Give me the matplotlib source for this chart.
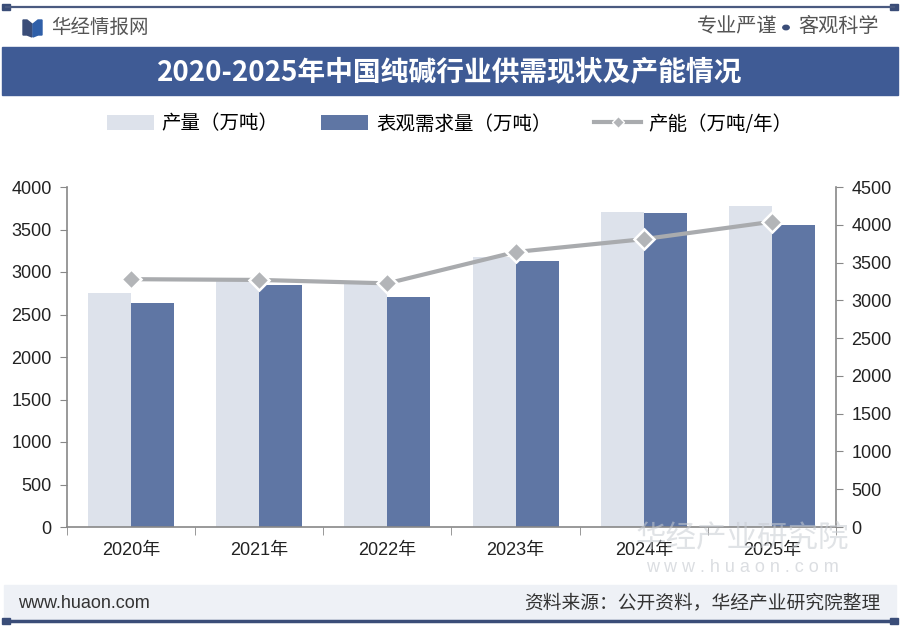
import matplotlib
matplotlib.use("Agg")
import matplotlib.pyplot as plt
from matplotlib.lines import Line2D
from matplotlib.patches import Patch, Rectangle, Polygon, Circle
import numpy as np

plt.rcParams['font.family'] = ['Noto Sans CJK SC', 'DejaVu Sans']

# -----------------------------
# data
# -----------------------------
years = ["2020年", "2021年", "2022年", "2023年", "2024年", "2025年"]
production = [2755, 2905, 2875, 3180, 3710, 3780]      # 产量（万吨）
demand = [2640, 2845, 2710, 3125, 3690, 3555]          # 表观需求量（万吨）
capacity = [3280, 3270, 3225, 3640, 3810, 4040]        # 产能（万吨/年）

left_ticks = list(range(0, 4001, 500))
right_ticks = list(range(0, 4501, 500))

# -----------------------------
# colors
# -----------------------------
c_prod = "#dde2eb"
c_dem = "#5f76a4"
c_line = "#a9abae"
c_banner = "#3f5b95"
c_dark = "#3a4d78"
num_font = ['Liberation Sans', 'Noto Sans CJK SC']

W, H = 900, 627
fig = plt.figure(figsize=(W / 100, H / 100), dpi=100)
fig.patch.set_facecolor("white")


def fx(px):
    return px / W


def fy(py):
    return 1 - py / H


# top line with end squares
fig.add_artist(Line2D([fx(6), fx(894)], [fy(7), fy(7)], color="#4a5a80", lw=1.6))
for x in (6, 894):
    fig.add_artist(Rectangle((fx(x - 4), fy(9.5)), 8 / W, 5 / H, color=c_dark))

# logo + header
fig.add_artist(Polygon([[fx(23), fy(20)], [fx(27), fy(20)], [fx(32), fy(24)],
                        [fx(32), fy(37)], [fx(27), fy(35)], [fx(23), fy(35)]],
                       closed=True, color=c_dark))
fig.add_artist(Polygon([[fx(42), fy(20)], [fx(38), fy(20)], [fx(33), fy(24)],
                        [fx(33), fy(37)], [fx(38), fy(35)], [fx(42), fy(35)]],
                       closed=True, color="#2f5fa8"))
fig.text(fx(51), fy(27), "华经情报网", fontsize=14, color="#555555", va="center", ha="left")
fig.text(fx(879), fy(27), "客观科学", fontsize=14.5, color="#555555", va="center", ha="right")
fig.text(fx(777), fy(27), "专业严谨", fontsize=14.5, color="#555555", va="center", ha="right")
fig.add_artist(Circle((fx(786), fy(27.5)), 3.2 / W, color="#3a4d78"))

# title banner
fig.add_artist(Rectangle((fx(2), fy(95)), 896 / W, 48 / H, color=c_banner))
fig.text(0.5, fy(72), "2020-2025年中国纯碱行业供需现状及产能情况", fontsize=20,
         fontweight="bold", color="white", va="center", ha="center")

# footer band
fig.add_artist(Rectangle((fx(4), fy(619)), 892 / W, 34 / H, color="#eef1f6"))
fig.add_artist(Line2D([fx(6), fx(894)], [fy(621), fy(621)], color=c_dark, lw=2.5))
for x in (6, 894):
    fig.add_artist(Rectangle((fx(x - 4), fy(624)), 8 / W, 6 / H, color=c_dark))
fig.text(fx(18), fy(603), "www.huaon.com", fontsize=13, color="#333333", va="center",
         ha="left", family=num_font)
fig.text(fx(880), fy(603), "资料来源：公开资料，华经产业研究院整理", fontsize=13.5,
         color="#333333", va="center", ha="right")

# -----------------------------
# main axes
# -----------------------------
ax = fig.add_axes([fx(67), fy(527), (836 - 67) / W, (527 - 187) / H])
ax.set_facecolor("none")
x = np.arange(len(years))
bw = 0.335
ax.bar(x - bw / 2, production, width=bw, color=c_prod, zorder=2)
ax.bar(x + bw / 2, demand, width=bw, color=c_dem, zorder=2)
ax.set_xlim(-0.5, len(years) - 0.5)
ax.set_ylim(0, 4000)
ax.set_yticks(left_ticks)
ax.set_yticklabels([str(t) for t in left_ticks], family=num_font, fontsize=13, color="#222222")
ax.set_xticks(x)
ax.set_xticklabels(years, family=num_font, fontsize=13, color="#222222")
ax.set_xticks(np.arange(-0.5, len(years)), minor=True)
ax.tick_params(axis="x", which="major", length=0, pad=11)
ax.tick_params(axis="x", which="minor", length=6, color="#888888", direction="out")
ax.tick_params(axis="y", length=5, color="#888888", pad=6)
for s in ("top", "right"):
    ax.spines[s].set_visible(False)
for s in ("left", "bottom"):
    ax.spines[s].set_color("#888888")
    ax.spines[s].set_linewidth(1.2)

ax2 = ax.twinx()
ax2.plot(x, capacity, color=c_line, lw=3, marker="D", markersize=10.5,
         markerfacecolor="#b3b5b8", markeredgecolor="white", markeredgewidth=1.8, zorder=5)
ax2.set_ylim(0, 4500)
ax2.set_yticks(right_ticks)
ax2.set_yticklabels([str(t) for t in right_ticks], family=num_font, fontsize=13, color="#222222")
ax2.tick_params(axis="y", length=5, color="#888888", pad=6)
for s in ("top", "left", "bottom"):
    ax2.spines[s].set_visible(False)
ax2.spines["right"].set_color("#888888")
ax2.spines["right"].set_linewidth(1.2)

# watermarks (faint, as in the source image)
fig.text(fx(742), fy(538), "华经产业研究院", fontsize=22, color="#c8ccd2", alpha=0.55,
         va="center", ha="center", zorder=10)
fig.text(fx(742), fy(567), "w w w . h u a o n . c o m", fontsize=13, color="#c8ccd2", alpha=0.65,
         va="center", ha="center", family=num_font, zorder=10)

# legend
handles = [
    Patch(facecolor=c_prod, edgecolor="none", label="产量（万吨）"),
    Patch(facecolor=c_dem, edgecolor="none", label="表观需求量（万吨）"),
    Line2D([0], [0], color=c_line, lw=3, marker="D", markersize=6,
           markerfacecolor="#b3b5b8", markeredgecolor="white", label="产能（万吨/年）"),
]
fig.legend(handles=handles, loc="center", bbox_to_anchor=(0.5, fy(124)), ncol=3,
           frameon=False, fontsize=14, handlelength=2.4, handleheight=0.8,
           columnspacing=2.2, handletextpad=0.4)

fig.savefig("out.png", dpi=100)
